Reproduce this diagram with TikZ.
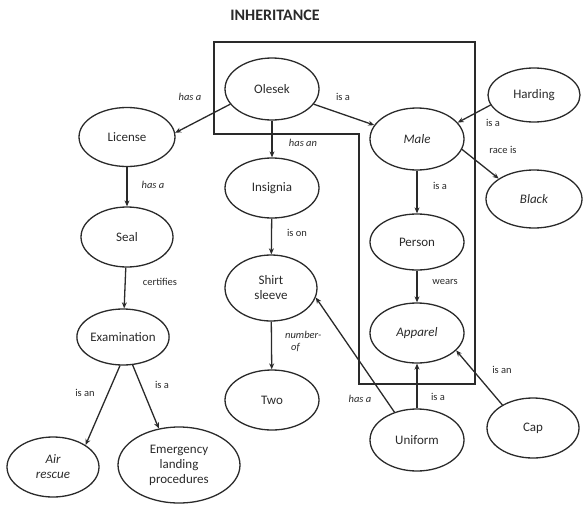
\documentclass[tikz,border=0pt]{standalone}
\usepackage{fontspec}
\setmainfont{Carlito}
\usetikzlibrary{shapes.geometric,arrows.meta}
\definecolor{ink}{HTML}{2A2A2A}
\begin{document}
\begin{tikzpicture}[x=1pt,y=-1pt,
  concept/.style 2 args={ellipse,draw=ink,line width=1.3pt,inner sep=0pt,
    minimum width=#1,minimum height=#2,align=center,font=\fontsize{13}{15}\selectfont,
    text=ink},
  rel/.style={font=\fontsize{10.5}{12}\selectfont,text=ink,inner sep=0pt,align=left},
  link/.style={draw=ink,line width=1.3pt,-{Stealth[length=6pt,width=5pt]}},
  frame/.style={draw=ink,line width=2.6pt,line join=miter}
]
\useasboundingbox (0,0) rectangle (583,506);

% title
\node[font=\bfseries\fontsize{16}{16}\selectfont,text=ink] (title) at (275,15) {INHERITANCE};

% inheritance frame
\draw[frame] (214,42) -- (475,42) -- (475,384) -- (359,384) -- (359,134) -- (214,134) -- cycle;

% concepts
\node[concept={94}{62}] (olesek)   at (272,89)  {Olesek};
\node[concept={96}{59}] (license)  at (127,137) {License};
\node[concept={92}{60}] (seal)     at (127,237) {Seal};
\node[concept={90}{56}] (exam)     at (123,337) {Examination};
\node[concept={92}{60}] (air)      at (53,467)  {\itshape Air\\\itshape rescue};
\node[concept={122}{76}] (emerg)   at (179,465) {Emergency\\landing\\procedures};
\node[concept={94}{60}] (insignia) at (272,188) {Insignia};
\node[concept={92}{66}] (shirt)    at (271,288) {Shirt\\sleeve};
\node[concept={94}{60}] (two)      at (272,400) {Two};
\node[concept={94}{62}] (male)     at (417,139) {\itshape Male};
\node[concept={94}{56}] (person)   at (417,242) {Person};
\node[concept={94}{60}] (apparel)  at (417,333) {\itshape Apparel};
\node[concept={94}{62}] (uniform)  at (417,440) {Uniform};
\node[concept={92}{54}] (harding)  at (534,95)  {Harding};
\node[concept={96}{58}] (black)    at (534,199) {\itshape Black};
\node[concept={92}{60}] (cap)      at (533,428) {Cap};

% relations
\draw[link] (olesek.-160) -- (license.5);
\draw[link] (olesek.-20) -- (male.162);
\draw[link] (olesek) -- (insignia);
\draw[link] (license) -- (seal);
\draw[link] (seal) -- (exam);
\draw[link] (exam.-96) -- (air.34);
\draw[link] (exam.-71) -- (emerg.119);
\draw[link] (insignia) -- (shirt);
\draw[link] (shirt) -- (two);
\draw[link] (harding.-167) -- (male.22);
\draw[link] (male.-13) -- (black.150);
\draw[link] (male) -- (person);
\draw[link] (person) -- (apparel);
\draw[link] (uniform) -- (apparel);
\draw[link] (uniform.129) -- (shirt.-12);
\draw[link] (cap.143) -- (apparel.-24);

% relation labels
\node[rel] (l1)  at (190,97)  {\itshape has a};
\node[rel] (l2)  at (343,97)  {is a};
\node[rel] (l3)  at (303,143) {\itshape has an};
\node[rel] (l4)  at (153,185) {\itshape has a};
\node[rel] (l5)  at (493,123) {is a};
\node[rel] (l6)  at (503,150) {race is};
\node[rel] (l7)  at (440,186) {is a};
\node[rel] (l8)  at (297,233) {is on};
\node[rel] (l9)  at (160,282) {certifies};
\node[rel] (l10) at (445,282) {wears};
\node[rel,anchor=west] (l11) at (285,341) {\itshape number-\\\hspace*{6pt}\itshape of};
\node[rel] (l12) at (85,393)  {is an};
\node[rel] (l13) at (162,385) {is a};
\node[rel] (l14) at (502,370) {is an};
\node[rel] (l15) at (360,399) {\itshape has a};
\node[rel] (l16) at (438,397) {is a};
\end{tikzpicture}
\end{document}
